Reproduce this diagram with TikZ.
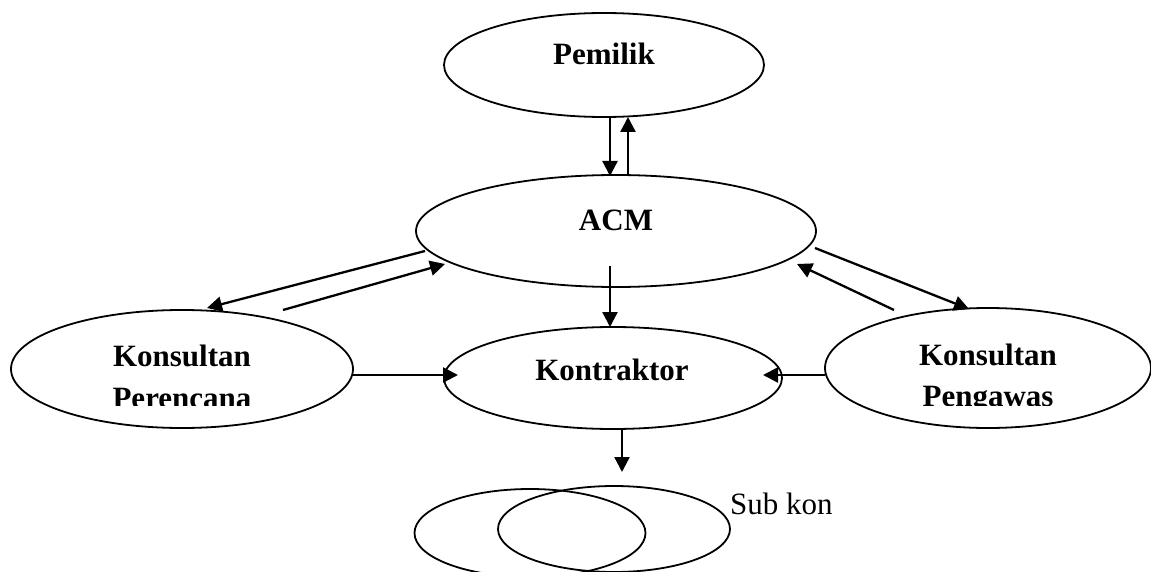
\documentclass[tikz,border=0pt]{standalone}
\usepackage{fontspec}
\setmainfont{Liberation Serif}
\usetikzlibrary{shapes.geometric,arrows.meta}
\begin{document}
\begin{tikzpicture}[x=1pt,y=-1pt,
  party/.style={ellipse,draw,line width=1.8pt,inner sep=0pt},
  lbl/.style={font=\fontsize{31}{42}\selectfont\bfseries,inner sep=0pt},
  flow/.style={line width=2.3pt,-{Triangle[length=15pt,width=15pt]}}]
\clip (0,0) rectangle (1151,572);
\fill[white] (0,0) rectangle (1151,572);

% organisation units
\node[party,minimum width=320pt,minimum height=104pt] (pemilik) at (604,65) {};
\node[party,minimum width=400pt,minimum height=112pt] (acm) at (616,231) {};
\node[party,minimum width=338pt,minimum height=102pt] (kontraktor) at (613,378) {};
\node[party,minimum width=342pt,minimum height=118pt] (perencana) at (182,369) {};
\node[party,minimum width=326pt,minimum height=120pt] (pengawas) at (988,368) {};
\node[party,minimum width=231pt,minimum height=88pt] (subA) at (530,533) {};
\node[party,minimum width=232pt,minimum height=86pt] (subB) at (614,529) {};

% labels
\node[lbl,anchor=base] (tPemilik) at (604,65) {Pemilik};
\node[lbl,anchor=base] (tAcm) at (616,230) {ACM};
\node[lbl,anchor=base] (tKontraktor) at (612,380) {Kontraktor};
\begin{scope}
  \clip (0,0) rectangle (1151,405);
  \node[lbl,anchor=base] (tPer1) at (182,366) {Konsultan};
  \node[lbl,anchor=base] (tPer2) at (182,408) {Perencana};
  \node[lbl,anchor=base] (tPen1) at (988,365) {Konsultan};
  \node[lbl,anchor=base] (tPen2) at (988,406) {Pengawas};
\end{scope}
\node[font=\fontsize{31}{42}\selectfont,inner sep=0pt,anchor=base west] (tSub) at (730,514) {Sub kon};

% connector end points
\coordinate (pDownA) at (610,117);
\coordinate (pDownB) at (610,176);
\coordinate (pUpA) at (628,176);
\coordinate (pUpB) at (628,117);
\coordinate (aKonA) at (610,266);
\coordinate (aKonB) at (610,327);
\coordinate (aPerA) at (425,251);
\coordinate (aPerB) at (207,308);
\coordinate (perAA) at (283,310);
\coordinate (perAB) at (445,264);
\coordinate (aPenA) at (815,248);
\coordinate (aPenB) at (969,309);
\coordinate (penAA) at (894,310);
\coordinate (penAB) at (797,264);
\coordinate (perKA) at (353,375);
\coordinate (perKB) at (458,375);
\coordinate (penKA) at (825,375);
\coordinate (penKB) at (763,375);
\coordinate (kSubA) at (622,428);
\coordinate (kSubB) at (622,472);

% connectors
\draw[flow] (pDownA) -- (pDownB);
\draw[flow] (pUpA) -- (pUpB);
\draw[flow] (aKonA) -- (aKonB);
\draw[flow] (aPerA) -- (aPerB);
\draw[flow] (perAA) -- (perAB);
\draw[flow] (aPenA) -- (aPenB);
\draw[flow] (penAA) -- (penAB);
\draw[flow] (perKA) -- (perKB);
\draw[flow] (penKA) -- (penKB);
\draw[flow] (kSubA) -- (kSubB);
\end{tikzpicture}
\end{document}
